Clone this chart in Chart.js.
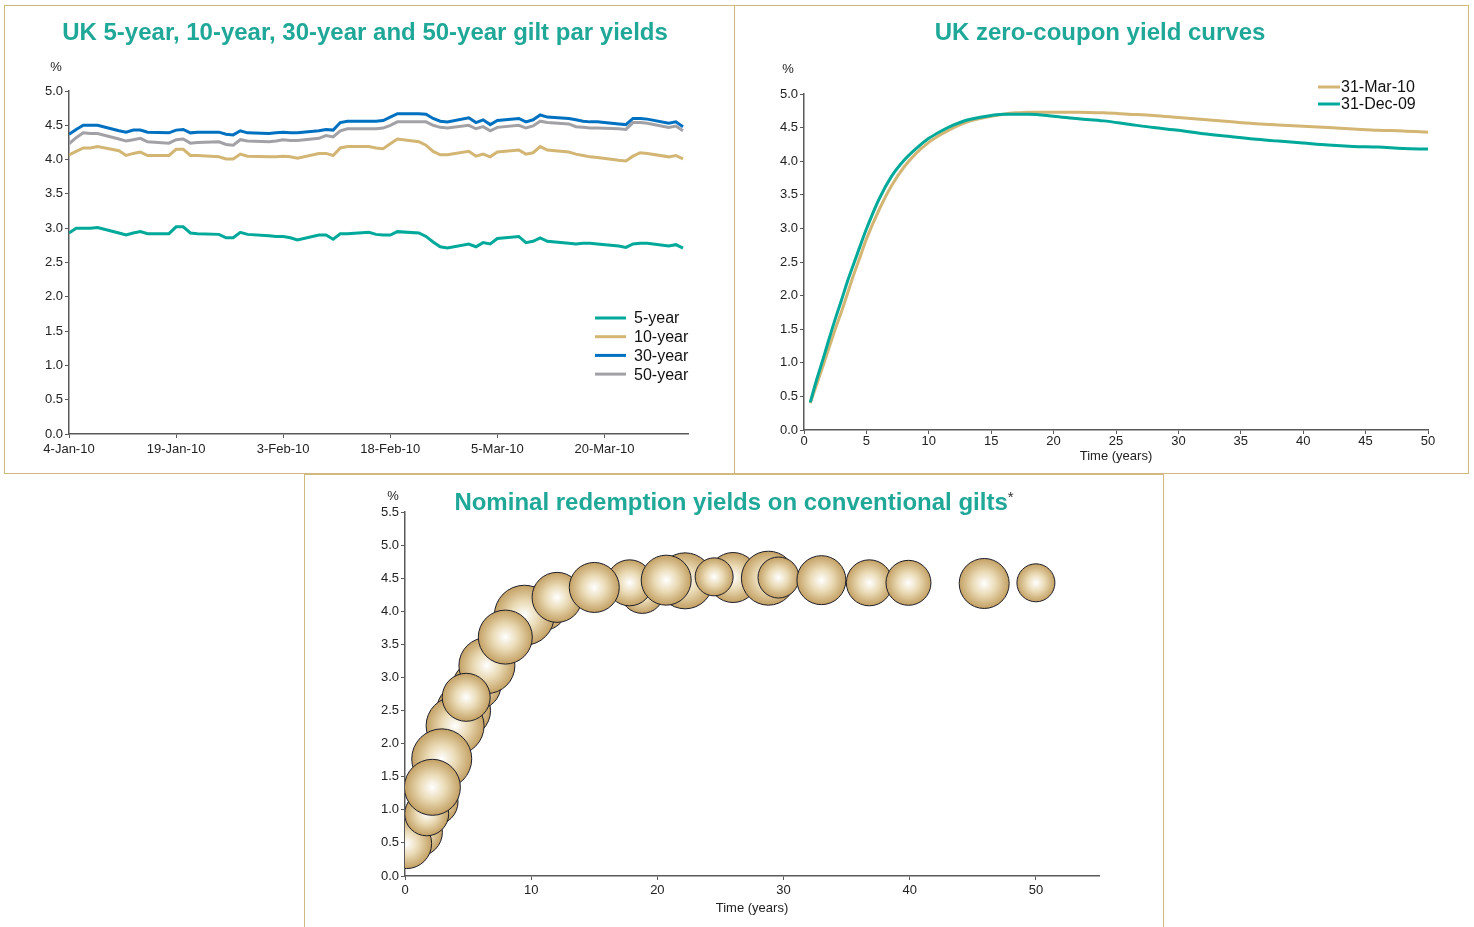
<!DOCTYPE html>
<html>
<head>
<meta charset="utf-8">
<title>UK gilt yields</title>
<script src="https://cdn.jsdelivr.net/npm/chart.js@4.4.1/dist/chart.umd.min.js"></script>
<style>
    html, body { margin: 0; padding: 0; background: #fff; }
    body { width: 1474px; height: 927px; position: relative; overflow: hidden; }
    canvas { position: absolute; display: block; }
    .panel { position: absolute; box-sizing: border-box; border: 1px solid #cfb97f; pointer-events: none; }
</style>
</head>
<body>
<canvas id="parChart" width="730" height="468" style="left:4px;top:5px;"></canvas>
<canvas id="zeroChart" width="734" height="468" style="left:734px;top:5px;"></canvas>
<canvas id="giltChart" width="859" height="460" style="left:304px;top:473px;"></canvas>
<div class="panel" style="left:4px;top:5px;width:731px;height:469px;"></div>
<div class="panel" style="left:734px;top:5px;width:735px;height:469px;"></div>
<div class="panel" style="left:304px;top:474px;width:860px;height:470px;"></div>

<script>
// Gilt par yields, business days 4 Jan - 31 Mar 2010
const parDates = [
    '2010-01-04', '2010-01-05', '2010-01-06', '2010-01-07', '2010-01-08',
    '2010-01-11', '2010-01-12', '2010-01-13', '2010-01-14', '2010-01-15',
    '2010-01-18', '2010-01-19', '2010-01-20', '2010-01-21', '2010-01-22',
    '2010-01-25', '2010-01-26', '2010-01-27', '2010-01-28', '2010-01-29',
    '2010-02-01', '2010-02-02', '2010-02-03', '2010-02-04', '2010-02-05',
    '2010-02-08', '2010-02-09', '2010-02-10', '2010-02-11', '2010-02-12',
    '2010-02-15', '2010-02-16', '2010-02-17', '2010-02-18', '2010-02-19',
    '2010-02-22', '2010-02-23', '2010-02-24', '2010-02-25', '2010-02-26',
    '2010-03-01', '2010-03-02', '2010-03-03', '2010-03-04', '2010-03-05',
    '2010-03-08', '2010-03-09', '2010-03-10', '2010-03-11', '2010-03-12',
    '2010-03-15', '2010-03-16', '2010-03-17', '2010-03-18', '2010-03-19',
    '2010-03-22', '2010-03-23', '2010-03-24', '2010-03-25', '2010-03-26',
    '2010-03-29', '2010-03-30', '2010-03-31'
];
const par5y = [
    2.93, 3.00, 3.00, 3.00, 3.01, 2.93, 2.90, 2.93, 2.95, 2.92,
    2.92, 3.02, 3.02, 2.93, 2.92, 2.91, 2.86, 2.86, 2.94, 2.91,
    2.89, 2.88, 2.88, 2.86, 2.83, 2.90, 2.90, 2.84, 2.92, 2.92,
    2.94, 2.91, 2.90, 2.90, 2.95, 2.93, 2.88, 2.80, 2.73, 2.71,
    2.77, 2.73, 2.79, 2.77, 2.85, 2.88, 2.79, 2.81, 2.86, 2.81,
    2.78, 2.77, 2.78, 2.78, 2.77, 2.74, 2.72, 2.77, 2.78, 2.78,
    2.74, 2.76, 2.71
];
const par10y = [
    4.07, 4.12, 4.17, 4.17, 4.19, 4.13, 4.06, 4.09, 4.11, 4.06,
    4.06, 4.15, 4.15, 4.06, 4.06, 4.04, 4.01, 4.01, 4.08, 4.05,
    4.04, 4.04, 4.05, 4.04, 4.02, 4.09, 4.09, 4.06, 4.17, 4.19,
    4.19, 4.17, 4.16, 4.23, 4.30, 4.26, 4.21, 4.12, 4.07, 4.07,
    4.12, 4.05, 4.08, 4.04, 4.11, 4.14, 4.08, 4.10, 4.19, 4.14,
    4.11, 4.08, 4.06, 4.04, 4.03, 3.99, 3.98, 4.05, 4.10, 4.09,
    4.04, 4.06, 4.01
];
const par30y = [
    4.37, 4.44, 4.50, 4.50, 4.50, 4.42, 4.40, 4.43, 4.43, 4.40,
    4.39, 4.43, 4.44, 4.39, 4.40, 4.40, 4.37, 4.36, 4.42, 4.39,
    4.38, 4.39, 4.40, 4.39, 4.39, 4.42, 4.44, 4.43, 4.54, 4.56,
    4.56, 4.56, 4.57, 4.62, 4.67, 4.67, 4.66, 4.60, 4.56, 4.55,
    4.61, 4.54, 4.58, 4.51, 4.57, 4.60, 4.55, 4.58, 4.65, 4.62,
    4.60, 4.58, 4.56, 4.55, 4.55, 4.52, 4.51, 4.60, 4.60, 4.59,
    4.53, 4.55, 4.48
];
const par50y = [
    4.23, 4.32, 4.39, 4.38, 4.38, 4.30, 4.27, 4.29, 4.31, 4.26,
    4.24, 4.29, 4.30, 4.24, 4.25, 4.26, 4.22, 4.21, 4.29, 4.27,
    4.26, 4.27, 4.29, 4.28, 4.28, 4.31, 4.35, 4.33, 4.42, 4.45,
    4.45, 4.45, 4.46, 4.50, 4.55, 4.55, 4.55, 4.50, 4.47, 4.46,
    4.50, 4.45, 4.48, 4.42, 4.47, 4.50, 4.46, 4.49, 4.56, 4.54,
    4.52, 4.48, 4.47, 4.46, 4.46, 4.45, 4.44, 4.54, 4.54, 4.53,
    4.47, 4.49, 4.42
];

// Zero-coupon yield curves
const zcMaturities = [
    0.5, 1, 1.5, 2, 2.5, 3, 3.5, 4, 4.5, 5,
    6, 7, 8, 9, 10, 11, 12, 13, 14, 15, 16, 17, 18,
    20, 22, 24, 26, 28, 30, 32, 34, 36, 38, 40, 42, 44, 46, 48, 50
];
const zcMar10 = [
    0.40, 0.67, 0.94, 1.22, 1.50, 1.76, 2.04, 2.32, 2.58, 2.84,
    3.27, 3.63, 3.91, 4.12, 4.28, 4.40, 4.50, 4.58, 4.63, 4.67, 4.70, 4.72, 4.73,
    4.73, 4.73, 4.72, 4.70, 4.68, 4.65, 4.62, 4.59, 4.56, 4.54, 4.52, 4.50, 4.48, 4.46, 4.45, 4.43
];
const zcDec09 = [
    0.41, 0.74, 1.04, 1.35, 1.65, 1.93, 2.22, 2.48, 2.74, 2.99,
    3.43, 3.77, 4.01, 4.19, 4.34, 4.45, 4.54, 4.61, 4.65, 4.68, 4.70, 4.70, 4.70,
    4.67, 4.63, 4.60, 4.55, 4.50, 4.46, 4.41, 4.37, 4.33, 4.30, 4.27, 4.24, 4.22, 4.21, 4.19, 4.18
];

// Conventional gilts (listed back to front as drawn)
const giltMaturities = [
    18.8, 1.06, 0.13, 2.38, 1.72, 4.64, 3.97, 2.91, 2.17, 5.70,
    6.49, 4.85, 10.99, 9.46, 7.95, 12.05, 17.8, 15.0, 22.2, 20.7,
    26.0, 24.5, 28.8, 29.6, 33.0, 36.8, 39.9, 45.9, 50.0
];
const giltYields = [
    4.30, 0.66, 0.49, 1.12, 0.94, 2.50, 2.27, 1.77, 1.34, 2.88,
    3.18, 2.70, 4.06, 3.94, 3.61, 4.21, 4.43, 4.36, 4.46, 4.47,
    4.51, 4.52, 4.50, 4.51, 4.47, 4.43, 4.43, 4.42, 4.43
];
const giltSizes = [
    22, 24, 25, 23, 22, 27, 29, 30, 28, 24,
    28, 24, 23, 30, 27, 25, 23, 25, 28, 25,
    25, 19, 27, 20.5, 24.5, 23, 22.5, 25, 19
];

const TEAL = '#00a99a';
const TAN = '#d3b574';
const BLUE = '#0070c0';
const GREY = '#a2a2a6';
const TITLE_COLOUR = '#1fa898';
const AXIS_COLOUR = '#5a5a5a';
const FONT = '"Liberation Sans", Arial, Helvetica, sans-serif';
const tickFont = { family: FONT, size: 13 };

const MONTHS = ['Jan', 'Feb', 'Mar', 'Apr', 'May', 'Jun', 'Jul', 'Aug', 'Sep', 'Oct', 'Nov', 'Dec'];
const DAY_MS = 86400000;
const START = Date.UTC(2010, 0, 4);

function dayOffset(s) {
    const [y, m, d] = s.split('-').map(Number);
    return (Date.UTC(y, m - 1, d) - START) / DAY_MS;
}

function dayLabel(v) {
    const dt = new Date(START + v * DAY_MS);
    return dt.getUTCDate() + '-' + MONTHS[dt.getUTCMonth()] + '-' + String(dt.getUTCFullYear()).slice(2);
}

// Titles, the % unit and the inside legend
const decorations = {
    id: 'decorations',
    afterDraw(chart, args, opts) {
        const ctx = chart.ctx;
        ctx.save();
        ctx.textBaseline = 'middle';

        if (opts.title) {
            ctx.font = 'bold 24px ' + FONT;
            const w = ctx.measureText(opts.title).width;
            let mw = 0;
            if (opts.titleMark) {
                ctx.font = '15px ' + FONT;
                mw = ctx.measureText(opts.titleMark).width;
            }
            const left = opts.titleX - (w + mw) / 2;
            ctx.textAlign = 'left';
            ctx.font = 'bold 24px ' + FONT;
            ctx.fillStyle = TITLE_COLOUR;
            ctx.fillText(opts.title, left, opts.titleY);
            if (opts.titleMark) {
                ctx.font = '15px ' + FONT;
                ctx.fillStyle = '#333';
                ctx.fillText(opts.titleMark, left + w, opts.titleY - 5);
            }
        }

        ctx.font = '13px ' + FONT;
        ctx.fillStyle = '#222';
        ctx.textAlign = 'center';
        ctx.fillText('%', opts.unitX, opts.unitY);

        if (opts.legend) {
            const L = opts.legend;
            chart.data.datasets.forEach((ds, i) => {
                const y = L.y + i * L.rowHeight;
                ctx.strokeStyle = ds.borderColor;
                ctx.lineWidth = 3;
                ctx.beginPath();
                ctx.moveTo(L.x, y);
                ctx.lineTo(L.x + L.lineLength, y);
                ctx.stroke();
                ctx.fillStyle = '#111';
                ctx.font = '16px ' + FONT;
                ctx.textAlign = 'left';
                ctx.fillText(ds.label, L.x + L.lineLength + L.gap, y + 1);
            });
        }
        ctx.restore();
    }
};

function valueAxis(max, width) {
    return {
        min: 0,
        max: max,
        border: { color: AXIS_COLOUR, width: 1.5 },
        grid: { drawOnChartArea: false, tickLength: 4, color: AXIS_COLOUR, lineWidth: 1 },
        ticks: { stepSize: 0.5, padding: 2, color: '#222', font: tickFont, callback: v => v.toFixed(1) },
        afterFit: s => { s.width = width; }
    };
}

function timeAxis(max, step, height, padding, title) {
    const axis = {
        type: 'linear',
        min: 0,
        max: max,
        border: { color: AXIS_COLOUR, width: 1.5 },
        grid: { drawOnChartArea: false, tickLength: 4, color: AXIS_COLOUR, lineWidth: 1 },
        ticks: {
            stepSize: step, includeBounds: false, autoSkip: false, maxRotation: 0,
            padding: padding, color: '#222', font: tickFont
        },
        afterFit: s => { s.height = height; }
    };
    if (title) {
        axis.title = { display: true, text: title, color: '#222', font: tickFont, padding: { top: 0, bottom: 0 } };
    }
    return axis;
}

const baseOptions = {
    responsive: false,
    animation: false,
    events: [],
    plugins: { legend: { display: false }, tooltip: { enabled: false } }
};

// Chart 1: par yields
const parX = parDates.map(dayOffset);
const parSeries = [
    ['5-year', par5y, TEAL],
    ['10-year', par10y, TAN],
    ['30-year', par30y, BLUE],
    ['50-year', par50y, GREY]
];

const parXAxis = timeAxis(86.7, 15, 30, 4);
parXAxis.ticks.callback = v => dayLabel(v);

new Chart(document.getElementById('parChart'), {
    type: 'line',
    data: {
        datasets: parSeries.map(([label, values, colour]) => ({
            label: label,
            data: values.map((v, i) => ({ x: parX[i], y: v })),
            borderColor: colour,
            borderWidth: 3,
            pointRadius: 0,
            tension: 0
        }))
    },
    options: {
        ...baseOptions,
        layout: { padding: { left: 25, top: 86, right: 46, bottom: 9 } },
        scales: { x: parXAxis, y: valueAxis(5, 40) },
        plugins: {
            ...baseOptions.plugins,
            decorations: {
                title: 'UK 5-year, 10-year, 30-year and 50-year gilt par yields',
                titleX: 361, titleY: 28, unitX: 52, unitY: 62,
                legend: { x: 591, y: 313, lineLength: 31, gap: 8, rowHeight: 18.7 }
            }
        }
    },
    plugins: [decorations]
});

// Chart 2: zero-coupon curves
new Chart(document.getElementById('zeroChart'), {
    type: 'line',
    data: {
        datasets: [
            { label: '31-Mar-10', data: zcMaturities.map((m, i) => ({ x: m, y: zcMar10[i] })), borderColor: TAN, order: 1 },
            { label: '31-Dec-09', data: zcMaturities.map((m, i) => ({ x: m, y: zcDec09[i] })), borderColor: TEAL, order: 0 }
        ].map(ds => ({ ...ds, borderWidth: 3, pointRadius: 0, cubicInterpolationMode: 'monotone' }))
    },
    options: {
        ...baseOptions,
        layout: { padding: { left: 30, top: 89, right: 40, bottom: 9 } },
        scales: { x: timeAxis(50, 5, 34, 0, 'Time (years)'), y: valueAxis(5, 40) },
        plugins: {
            ...baseOptions.plugins,
            decorations: {
                title: 'UK zero-coupon yield curves',
                titleX: 366, titleY: 28, unitX: 54, unitY: 64,
                legend: { x: 584, y: 82, lineLength: 22, gap: 1, rowHeight: 17 }
            }
        }
    },
    plugins: [decorations]
});

// Chart 3: redemption yields, shaded bubbles
function bubbleFill(context) {
    const chart = context.chart;
    if (context.type !== 'data' || !chart.chartArea) {
        return TAN;
    }
    const raw = context.raw;
    const cx = chart.scales.x.getPixelForValue(raw.x);
    const cy = chart.scales.y.getPixelForValue(raw.y);
    const g = chart.ctx.createRadialGradient(cx, cy, 0, cx, cy, raw.r);
    g.addColorStop(0, '#ffffff');
    g.addColorStop(0.45, '#ebdcb8');
    g.addColorStop(1, '#c3a063');
    return g;
}

new Chart(document.getElementById('giltChart'), {
    type: 'bubble',
    data: {
        datasets: [{
            label: 'Conventional gilts',
            data: giltMaturities.map((m, i) => ({ x: m, y: giltYields[i], r: giltSizes[i] })),
            backgroundColor: bubbleFill,
            borderColor: '#1e1e2a',
            borderWidth: 1,
            clip: 0
        }]
    },
    options: {
        ...baseOptions,
        layout: { padding: { left: 61, top: 39, right: 64, bottom: 17 } },
        scales: { x: timeAxis(55, 10, 40, 3, 'Time (years)'), y: valueAxis(5.5, 40) },
        plugins: {
            ...baseOptions.plugins,
            decorations: {
                title: 'Nominal redemption yields on conventional gilts',
                titleMark: '*',
                titleX: 430, titleY: 30, unitX: 89, unitY: 23
            }
        }
    },
    plugins: [decorations]
});
</script>
</body>
</html>
